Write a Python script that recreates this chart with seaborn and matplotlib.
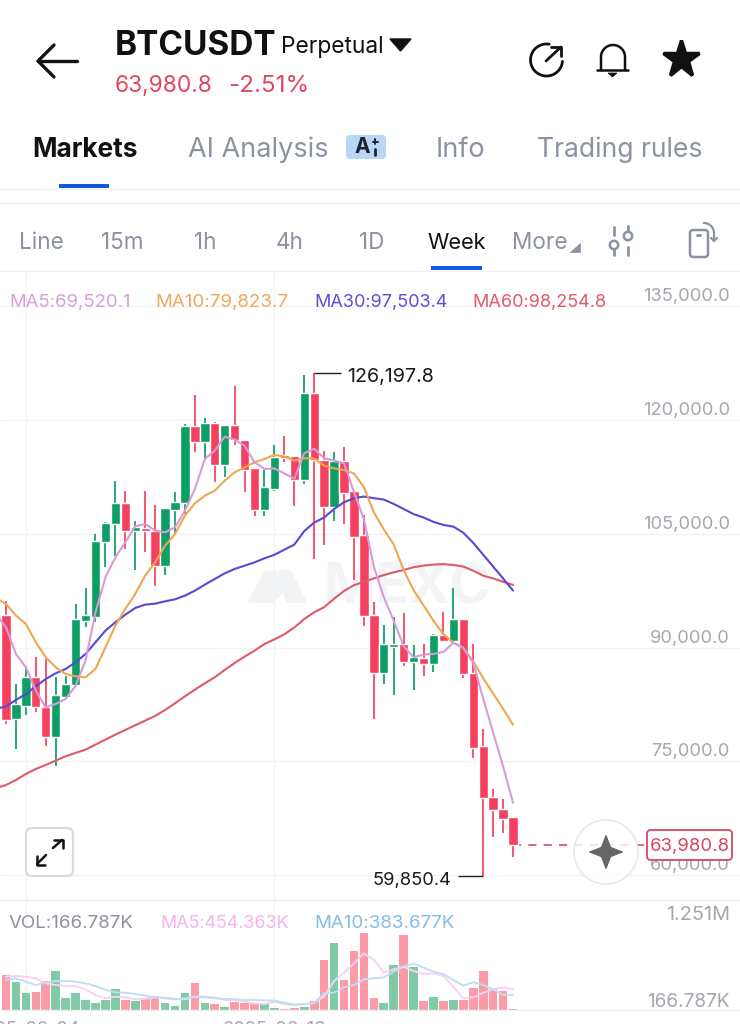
import numpy as np
import pandas as pd
import matplotlib
matplotlib.use('Agg')
import matplotlib.pyplot as plt
from matplotlib.patches import FancyBboxPatch, Circle, Polygon
import seaborn as sns

# candles
open_ = [94333, 80533, 82335, 86071, 82203, 78248, 83434, 85060, 93542, 94070, 103958, 106288, 109013,
         105409, 105716, 105409, 100794, 108177, 109013, 119165, 117143, 119560, 114067, 119341, 117407,
         113616, 108126, 110938, 115402, 115313, 112054, 123571, 114732, 108483, 114643, 110581, 104777,
         94332, 86698, 90047, 90404, 88038, 88618, 87815, 91609, 90851, 93752, 86698, 77011, 70315, 68753, 67637]
high = [96179, 85192, 87389, 88707, 88488, 86071, 86291, 95740, 97805, 104969, 106551, 111913, 110683,
        106727, 110595, 108837, 108353, 110463, 119473, 123296, 120264, 119780, 119341, 124527, 117407,
        113616, 113393, 116652, 117857, 115313, 125982, 126197.8, 115938, 115759, 116429, 110581, 107456,
        95984, 92993, 94064, 94511, 90314, 90493, 91743, 94645, 97859, 93752, 90493, 79243, 71298, 69958, 67637]
low = [79918, 76621, 81148, 81456, 77061, 74423, 83434, 85060, 92663, 93323, 100662, 102024, 102991,
       100266, 102552, 98069, 99563, 105057, 107606, 115737, 114726, 111869, 112529, 116748, 110551,
       107278, 107278, 110626, 114509, 108617, 111518, 101698, 103483, 106697, 106251, 98885, 92859,
       80582, 85181, 83797, 87502, 84377, 86297, 86743, 90851, 90851, 85940, 75449, 59850.4, 65047, 65538, 62370]
close = [80445, 82554, 86071, 82203, 78248, 83741, 85192, 93762, 94289, 104090, 106463, 109013, 105409,
         105848, 105409, 100794, 108353, 109232, 119165, 117055, 119560, 114067, 119341, 117363, 113407,
         108126, 111161, 115179, 114956, 112054, 123571, 114732, 108483, 114643, 110402, 104554, 94109,
         86698, 90404, 90404, 88038, 88707, 87815, 91609, 90851, 93752, 86475, 76788, 70092, 68619, 67414, 63980.8]

# moving averages, first value is the point just left of the frame
ma5 = [94421, 92663, 89147, 87389, 84312, 82115, 82555, 83214, 84972, 88268, 94641, 99255, 101893, 103870,
       105980, 106288, 105409, 105189, 105848, 108046, 110902, 114858, 115957, 117803, 117407, 116616, 114418,
       113539, 113616, 112947, 112277, 115625, 116205, 114956, 114643, 114286, 110491, 106920, 100671, 96653,
       93529, 90181, 88707, 89064, 89153, 89421, 90627, 89957, 87948, 83261, 78797, 74330, 69520.1]
ma10 = [96531, 95740, 94202, 93101, 90685, 88707, 87389, 86510, 86202, 86071, 87170, 90026, 92883, 95080,
        97058, 99475, 101233, 103431, 104969, 107386, 109013, 110023, 110683, 112001, 113100, 113759, 114418,
        114858, 115402, 115179, 114643, 114956, 114956, 113973, 113616, 113393, 112947, 111161, 107813, 105581,
        103572, 100224, 97546, 95537, 93529, 91743, 90627, 89957, 88171, 85940, 83931, 81922, 79823.7]
ma30 = [81895, 82247, 83082, 83873, 84885, 85851, 86598, 87170, 88048, 89147, 90685, 92224, 93323, 94333,
        95212, 95652, 95784, 96092, 96355, 96839, 97498, 98289, 99036, 99783, 100355, 100794, 101233,
        101761, 102233, 102903, 103572, 105358, 106474, 107144, 108260, 109152, 109688, 109911, 109688, 109510,
        108929, 108260, 107590, 107144, 106563, 106162, 105938, 105135, 103796, 102233, 100671, 99109, 97503.4]
ma60 = [71472, 71867, 72534, 73326, 73985, 74511, 75083, 75654, 76094, 76533, 77193, 77852, 78511, 79127,
        79742, 80358, 80973, 81763, 82642, 83566, 84444, 85280, 86071, 87038, 87960, 88795, 89587,
        90466, 91072, 91743, 92636, 93752, 94645, 95314, 96430, 97457, 98216, 98662, 99109, 99555,
        99912, 100224, 100582, 100805, 100939, 100984, 100894, 100671, 100135, 99466, 99109, 98662, 98254.8]

# volume in thousands
volume = [566, 458, 270, 297, 469, 631, 200, 270, 162, 108, 167, 334, 162, 140, 189, 226, 108, 70, 280, 442,
          119, 97, 49, 129, 108, 97, 92, 38, 22, 38, 54, 146, 809, 1089, 485, 960, 1251, 200, 108, 728,
          1213, 701, 151, 205, 140, 162, 162, 356, 636, 334, 313, 16]
vol_ma5 = [539, 550, 539, 512, 431, 404, 388, 388, 334, 243, 189, 216, 205, 173, 183, 205, 205, 183, 173, 216,
           216, 205, 162, 162, 135, 108, 97, 135, 97, 81, 92, 119, 216, 469, 604, 755, 917, 809, 604, 658,
           701, 631, 582, 593, 550, 377, 189, 205, 280, 334, 367, 334]
vol_ma10 = [485, 512, 458, 404, 442, 469, 469, 458, 431, 388, 324, 286, 280, 259, 232, 205, 189, 173, 189, 216,
            205, 189, 178, 173, 162, 162, 156, 151, 119, 86, 97, 108, 270, 280, 367, 404, 496, 512, 528, 620,
            701, 755, 685, 620, 582, 485, 394, 448, 404, 334, 243, 243]

price_ticks = [135000, 120000, 105000, 90000, 75000, 60000]
price_labels = ['135,000.0', '120,000.0', '105,000.0', '90,000.0', '75,000.0', '60,000.0']
date_ticks = [2, 27]
date_labels = ['2025-02-24', '2025-08-18']
tabs = ['Markets', 'AI Analysis', 'Info', 'Trading rules']
periods = ['Line', '15m', '1h', '4h', '1D', 'Week', 'More']

RED = '#F6405F'
GREEN = '#0B9F63'
GREY = '#8C93A0'
AXIS_GREY = '#A3A7AE'

sns.set_theme(style='white')
plt.rcParams['font.family'] = ['Inter', 'DejaVu Sans']

fig = plt.figure(figsize=(7.4, 10.24), dpi=100)
W, H = 740, 1024

# px helper, y counted from the top
def box(x0, y0, x1, y1):
    return [x0 / W, 1 - y1 / H, (x1 - x0) / W, (y1 - y0) / H]

ax = fig.add_axes(box(0, 271, 740, 900))
vax = fig.add_axes(box(0, 900, 740, 1010))
ov = fig.add_axes([0, 0, 1, 1], zorder=5)
ov.set_xlim(0, W)
ov.set_ylim(H, 0)
ov.axis('off')
ov.patch.set_alpha(0)

idx = np.arange(52)
ma_idx = np.arange(-1, 52)
xlim = (-0.6036, 73.83)

# price panel
ax.set_xlim(*xlim)
ax.set_ylim(56703, 139650)
ax.set_yticks(price_ticks)
ax.set_xticks(date_ticks)
ax.tick_params(left=False, bottom=False, labelleft=False, labelbottom=False)
ax.grid(True, color='#F2F3F5', lw=1)
ax.set_axisbelow(True)
sns.despine(ax=ax, left=True, bottom=True, top=True, right=True)

# watermark
ax.text(407, 589, 'MEXC', transform=ov.transData, color='#F3F4F6', fontsize=40, fontweight='bold',
        ha='center', va='center', zorder=0.5)
for pts in ([(251, 600), (267, 573), (274, 573), (282, 590), (272, 600)], [(281, 573), (289, 573), (303, 600), (288, 600)]):
    ax.add_patch(Polygon(pts, closed=True, transform=ov.transData, fc='#F2F3F5', ec='#F2F3F5', lw=4,
                         joinstyle='round', zorder=0.5))

opens = np.array(open_)
closes = np.array(close)
candle_colors = [GREEN if c > o else RED for o, c in zip(open_, close)]
ax.vlines(idx, low, high, colors=candle_colors, lw=1.25, zorder=2)
ax.bar(idx, np.abs(closes - opens), bottom=np.minimum(opens, closes), width=0.94, color=candle_colors, zorder=3)

for vals, col in [(ma60, '#DE5A68'), (ma30, '#5848D4'), (ma10, '#EFA650'), (ma5, '#D99AD8')]:
    sns.lineplot(x=ma_idx, y=vals, ax=ax, color=col, lw=1.5, errorbar=None, zorder=4)
ax.set_xlim(*xlim)
ax.set_xlabel('')
ax.set_ylabel('')

# last price dash
ax.hlines(close[-1], 51, 64.5, colors='#E4566F', lw=1.3, linestyles=(0, (4.5, 4)), zorder=2)

for p, lab in zip(price_ticks, price_labels):
    ax.annotate(lab, xy=(1, p), xycoords=('axes fraction', 'data'), xytext=(-7.2, 6.7),
                textcoords='offset points', ha='right', va='center', fontsize=13.2, color=AXIS_GREY)

# high and low markers
ax.hlines(max(high), 31, 33.7, colors='#222222', lw=1)
ax.annotate('{:,.1f}'.format(max(high)), xy=(31, max(high)), xytext=(23.5, -2.8), textcoords='offset points',
            va='center', ha='left', fontsize=14.2, color='#1A1A1A')
ax.hlines(min(low), 45.5, 48, colors='#222222', lw=1)
ax.annotate('{:,.1f}'.format(min(low)), xy=(48, min(low)), xytext=(-23, -2.8), textcoords='offset points',
            va='center', ha='right', fontsize=13.2, color='#1A1A1A')

# volume panel
sns.barplot(x=idx, y=volume, native_scale=True, width=0.87, color='#80CBA6', ax=vax, zorder=2)
for bar, o, c in zip(vax.patches, open_, close):
    bar.set_facecolor('#80CBA6' if c > o else '#FC9BA8')
    bar.set_edgecolor('none')
sns.lineplot(x=idx, y=vol_ma5, ax=vax, color='#F7D2F4', lw=1.4, errorbar=None, zorder=3)
sns.lineplot(x=idx, y=vol_ma10, ax=vax, color='#BFDFF4', lw=1.4, errorbar=None, zorder=3)
vax.set_xlim(*xlim)
vax.set_ylim(0, 1780)
vax.set_xticks(date_ticks)
vax.set_yticks([])
vax.set_xlabel('')
vax.set_ylabel('')
vax.tick_params(left=False, bottom=False, labelleft=False, labelbottom=False)
vax.grid(True, axis='x', color='#F2F3F5', lw=1)
vax.set_axisbelow(True)
for side, spine in vax.spines.items():
    spine.set_visible(side in ('top', 'bottom'))
    spine.set_color('#EFF0F2')
    spine.set_linewidth(1)

# text and icons on the overlay, pixel coordinates
def txt(x, y, s, size, color='#111111', weight='normal', ha='left'):
    ov.text(x, y + 4, s, fontsize=size, color=color, fontweight=weight, ha=ha, va='center')

def line(xs, ys, color='#111111', lw=2.0):
    ov.plot(xs, ys, color=color, lw=lw, solid_capstyle='round', solid_joinstyle='round')

txt(115, 42, 'BTCUSDT', 24, weight='bold')
txt(281, 43, 'Perpetual', 16.4)
ov.add_patch(Polygon([(390, 39), (411, 39), (400.5, 51)], closed=True, fc='#111111', ec='#111111', lw=1))
txt(115, 82, '63,980.8', 16.3, color='#E0475F')
txt(228, 82, '-2.51%', 17.4, color='#E0475F')

line([38, 77], [61, 61], lw=2.4)
line([54, 38, 54], [45, 61, 77], lw=2.4)

# share icon
th = np.radians(np.linspace(5, 280, 80))
line(546.5 + 16 * np.cos(th), 60 + 16 * np.sin(th), lw=2)
line([546, 561], [61, 47], lw=2)
line([551, 561, 561], [47, 47, 56], lw=2)

# bell
th = np.radians(np.linspace(180, 360, 40))
line(np.r_[601, 601 + 12 + 12 * np.cos(th), 625], np.r_[70, 57 + 12 * np.sin(th), 70], lw=1.8)
line([597, 628], [70, 70], lw=1.8)
ov.add_patch(Polygon([(608, 73), (617, 73), (612.5, 77)], closed=True, fc='#111111', ec='#111111', lw=0.5))

# star
ov.plot([681], [59], marker='*', ms=28, color='#111111', mec='#111111', mew=2.5)

txt(32, 146, tabs[0], 18.9, weight='bold')
txt(188, 146, tabs[1], 19.5, color=GREY)
txt(436, 146, tabs[2], 19.5, color=GREY)
txt(537, 146, tabs[3], 19.1, color=GREY)
ov.add_patch(FancyBboxPatch((349, 138), 34, 18, boxstyle='round,pad=3,rounding_size=4', fc='#BAD6F7', ec='none'))
txt(362, 143, 'A', 15, color='#1B2233', weight='bold', ha='center')
line([375, 375], [149, 155], color='#1B2233', lw=2)
line([375, 375], [139, 144], color='#1B2233', lw=1.4)
line([372.5, 377.5], [141.5, 141.5], color='#1B2233', lw=1.4)
ov.add_patch(FancyBboxPatch((59, 184), 50, 4, boxstyle='square,pad=0', fc='#1557E0', ec='none'))
line([0, 740], [189, 189], color='#EFF0F2', lw=1)
line([0, 740], [203, 203], color='#EFF0F2', lw=1)

for s, x in zip(periods, [19, 101, 194, 276, 359, 427, 512]):
    txt(x, 239, s, 15.6 if s == 'Week' else 16.2, color='#111111' if s == 'Week' else GREY)
ov.add_patch(Polygon([(570, 252), (580, 252), (580, 243)], closed=True, fc=GREY, ec=GREY, lw=0.5))
ov.add_patch(FancyBboxPatch((431, 266), 51, 4, boxstyle='square,pad=0', fc='#1557E0', ec='none'))
line([0, 740], [271, 271], color='#EFF0F2', lw=1)

# slider and rotate icons
line([614, 614], [227, 235], color=GREY)
ov.add_patch(Circle((614, 245), 4.2, fc='white', ec=GREY, lw=1.8))
line([614, 614], [250, 255], color=GREY)
line([628, 628], [226, 231], color=GREY)
ov.add_patch(Circle((628, 236), 4.2, fc='white', ec=GREY, lw=1.8))
line([628, 628], [247, 255], color=GREY)
ov.add_patch(FancyBboxPatch((690, 230), 18, 27, boxstyle='round,pad=0,rounding_size=3', fc='none', ec=GREY, lw=1.8))
line([697, 700], [234.5, 234.5], color=GREY)
th = np.radians(np.linspace(-90, 0, 20))
line(704 + 10 * np.cos(th), 233 + 10 * np.sin(th), color=GREY, lw=1.6)
line([714, 714], [233, 241], color=GREY, lw=1.6)
line([711, 714, 717], [238, 241, 238], color=GREY, lw=1.6)

# indicator captions
txt(9, 298, 'MA5:69,520.1', 13.3, color='#D79FD8')
txt(155, 298, 'MA10:79,823.7', 13.5, color='#EFA85C')
txt(314, 298, 'MA30:97,503.4', 13, color='#5B50D2')
txt(472, 298, 'MA60:98,254.8', 13, color='#E05A6A')
txt(9, 920, 'VOL:166.787K', 13.5, color='#8D929B')
txt(160, 920, 'MA5:454.363K', 12.9, color='#F3B4EE')
txt(314, 920, 'MA10:383.677K', 13.5, color='#85BCE8')
txt(730, 911, '1.251M', 14.3, color=AXIS_GREY, ha='right')
txt(730, 998, '166.787K', 13.7, color=AXIS_GREY, ha='right')

for x, s in zip(date_ticks, date_labels):
    ov.text(6 + 9.941 * x, 1030, s, fontsize=13.2, color=AXIS_GREY, ha='center', va='center', clip_on=True)

# expand button
ov.add_patch(FancyBboxPatch((26, 828), 47, 48, boxstyle='round,pad=0,rounding_size=6', fc='white', ec='#D8DBE0', lw=1.6))
line([37, 46], [864, 855], lw=1.8)
line([53, 62], [848, 840], lw=1.8)
line([37, 37, 45], [856, 864.5, 864.5], lw=1.8)
line([54, 62.5, 62.5], [839.5, 839.5, 848], lw=1.8)

# star button and price tag
ov.add_patch(Circle((606, 852), 32, fc=(1, 1, 1, 0.8), ec='#E9EAEC', lw=1.2))
cx, cy = 606, 852
pts = []
for a in range(8):
    r = 16.5 if a % 2 == 0 else 6.5
    pts.append((cx + r * np.sin(np.pi * a / 4), cy - r * np.cos(np.pi * a / 4)))
ov.add_patch(Polygon(pts, closed=True, fc='#666666', ec='#666666', lw=0.8, joinstyle='round'))
ov.add_patch(FancyBboxPatch((647, 830), 85, 30, boxstyle='round,pad=0,rounding_size=4', fc='white', ec='#DA4560', lw=1.3))
txt(689.5, 843, '63,980.8', 13.4, color='#DA4560', ha='center')

fig.savefig('out.png', dpi=100)
